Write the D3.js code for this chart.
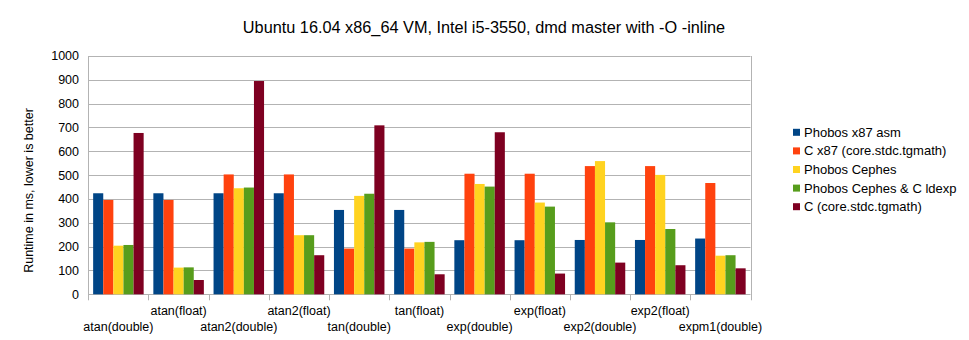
<!DOCTYPE html>
<html>
<head>
<meta charset="utf-8">
<script src="https://cdn.jsdelivr.net/npm/d3@7"></script>
<style>
  html, body { margin: 0; padding: 0; background: #fff; }
  svg { display: block; font-family: "Liberation Sans", Arial, sans-serif; }
</style>
</head>
<body>
<svg id="chart" width="969" height="340"></svg>
<script>
const title = "Ubuntu 16.04 x86_64 VM, Intel i5-3550, dmd master with -O -inline";
const yTitle = "Runtime in ms, lower is better";
const categories = ["atan(double)", "atan(float)", "atan2(double)", "atan2(float)", "tan(double)", "tan(float)", "exp(double)", "exp(float)", "exp2(double)", "exp2(float)", "expm1(double)"];
const seriesNames = ["Phobos x87 asm", "C x87 (core.stdc.tgmath)", "Phobos Cephes", "Phobos Cephes & C ldexp", "C (core.stdc.tgmath)"];
const colors = ["#004586", "#ff420e", "#ffd320", "#579d1c", "#7e0021"];
const phobosX87 = [424, 424, 424, 424, 354, 354, 227, 227, 228, 228, 234];
const cX87      = [396, 396, 503, 503, 192, 192, 506, 506, 538, 538, 467];
const cephes    = [204, 112, 445, 248, 413, 218, 463, 385, 559, 501, 162];
const cephesLdexp = [207, 113, 448, 248, 422, 220, 452, 368, 302, 274, 164];
const cTgmath   = [677, 60, 895, 164, 709, 84, 680, 87, 133, 122, 109];
const series = [phobosX87, cX87, cephes, cephesLdexp, cTgmath];
const yTicks = [0, 100, 200, 300, 400, 500, 600, 700, 800, 900, 1000];

const svg = d3.select("#chart");
const pLeft = 88.3, pRight = 750.5, pTop = 56, pBottom = 294.3;
const grid = "#b3b3b3";

const x = d3.scaleBand().domain(categories).range([pLeft, pRight]).paddingInner(0.161).paddingOuter(0.0805);
const xs = d3.scaleBand().domain(d3.range(seriesNames.length)).range([0, x.bandwidth()]);
const y = d3.scaleLinear().domain([0, 1000]).range([pBottom, pTop]);

// gridlines
svg.append("g").selectAll("line").data(yTicks).join("line")
  .attr("x1", pLeft).attr("x2", pRight)
  .attr("y1", d => Math.round(y(d)) + 0.5).attr("y2", d => Math.round(y(d)) + 0.5)
  .attr("stroke", grid).attr("stroke-width", 1);

// right border
svg.append("line").attr("x1", Math.round(pRight) + 0.5).attr("x2", Math.round(pRight) + 0.5)
  .attr("y1", pTop).attr("y2", pBottom + 6).attr("stroke", grid);

// bars
const gBars = svg.append("g");
series.forEach((vals, si) => {
  gBars.selectAll(null).data(vals).join("rect")
    .attr("x", (d, i) => x(categories[i]) + xs(si))
    .attr("width", xs.bandwidth())
    .attr("y", d => y(d))
    .attr("height", d => y(0) - y(d))
    .attr("fill", colors[si]);
});

// y axis line
svg.append("line").attr("x1", Math.round(pLeft) + 0.5).attr("x2", Math.round(pLeft) + 0.5)
  .attr("y1", pTop).attr("y2", pBottom + 6).attr("stroke", grid);

// x ticks at band boundaries
const boundaries = categories.map(c => x(c) - x.step() * 0.0805);
svg.append("g").selectAll("line").data(boundaries.slice(1)).join("line")
  .attr("x1", d => Math.round(d) + 0.5).attr("x2", d => Math.round(d) + 0.5)
  .attr("y1", pBottom).attr("y2", pBottom + 6).attr("stroke", grid);

// y tick labels
svg.append("g").selectAll("text").data(yTicks).join("text")
  .attr("x", 79).attr("y", d => y(d)).attr("dy", "0.35em")
  .attr("text-anchor", "end").attr("font-size", "12.5px").attr("fill", "#000")
  .text(d => d);

// x labels (staggered)
svg.append("g").selectAll("text").data(categories).join("text")
  .attr("x", d => x(d) + x.bandwidth() / 2)
  .attr("y", (d, i) => i % 2 === 0 ? 330.5 : 315)
  .attr("text-anchor", "middle").attr("font-size", "12.5px").attr("fill", "#000")
  .text(d => d);

// y title
svg.append("text").attr("transform", "translate(32.5,190.5) rotate(-90)")
  .attr("text-anchor", "middle").attr("font-size", "12.5px").attr("fill", "#000")
  .text(yTitle);

// title
svg.append("text").attr("x", 484).attr("y", 32.5).attr("text-anchor", "middle")
  .attr("font-size", "16.3px").attr("fill", "#000").text(title);

// legend
const lg = svg.append("g");
seriesNames.forEach((name, i) => {
  const cy = 132.3 + i * 18.6;
  lg.append("rect").attr("x", 793).attr("y", cy - 3.5).attr("width", 7).attr("height", 7).attr("fill", colors[i]);
  lg.append("text").attr("x", 804).attr("y", cy).attr("dy", "0.35em")
    .attr("font-size", "13px").attr("fill", "#000").text(name);
});
</script>
</body>
</html>
